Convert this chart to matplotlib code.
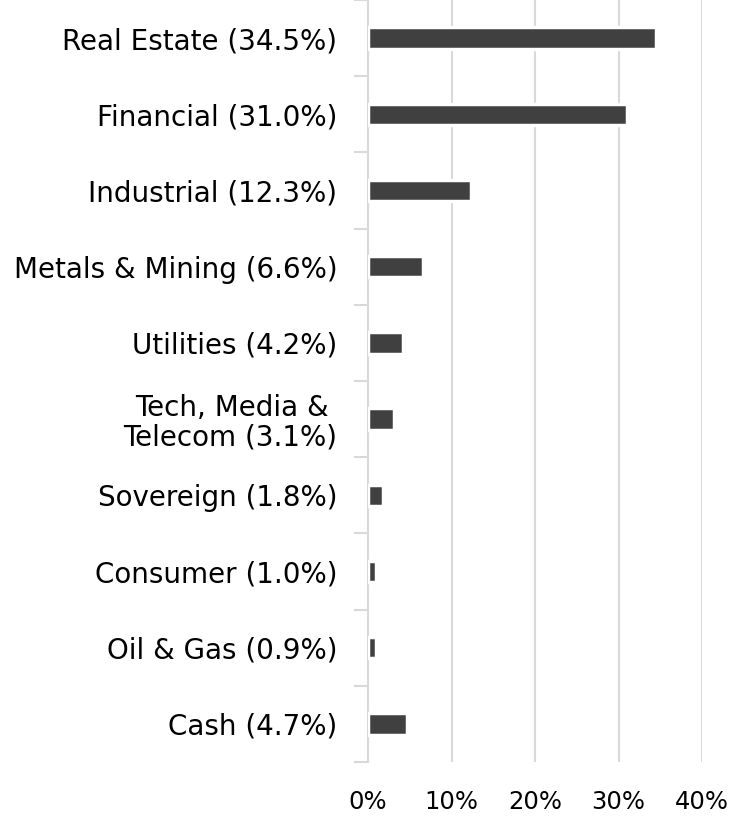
import numpy as np
import matplotlib.pyplot as plt

sectors = ["Real Estate (34.5%)", "Financial (31.0%)", "Industrial (12.3%)",
           "Metals & Mining (6.6%)", "Utilities (4.2%)", "Tech, Media & \nTelecom (3.1%)",
           "Sovereign (1.8%)", "Consumer (1.0%)", "Oil & Gas (0.9%)", "Cash (4.7%)"]
weights = [34.5, 31.0, 12.3, 6.6, 4.2, 3.1, 1.8, 1.0, 0.9, 4.7]
xticks = [0, 10, 20, 30, 40]

plt.rcParams['font.family'] = ['DejaVu Sans']

fig = plt.figure(figsize=(7.3, 8.22), dpi=100)
ax = fig.add_axes([368/730, 1 - 762/822, (702-368)/730, 762/822])

y = np.arange(len(sectors))
ax.barh(y, weights, height=0.28, color='#404040', edgecolor='white', linewidth=2.5, zorder=3)

ax.set_xlim(0, 40)
ax.set_ylim(len(sectors) - 0.5, -0.5)
ax.set_xticks(xticks)
ax.set_xticklabels([f"{t}%" for t in xticks], fontsize=17.5)
ax.set_yticks(y)
ax.set_yticklabels(sectors, fontsize=20, multialignment='right', linespacing=1.05)
ax.set_yticks(np.arange(-0.5, len(sectors) + 0.5, 1), minor=True)

ax.tick_params(axis='x', length=0, pad=20)
ax.tick_params(axis='y', which='major', length=0, pad=22)
ax.tick_params(axis='y', which='minor', length=10, width=1.5, color='#d9d9d9')

ax.grid(axis='x', color='#d9d9d9', linewidth=1.5, zorder=0)
for s in ['top', 'right', 'bottom']:
    ax.spines[s].set_visible(False)
ax.spines['left'].set_color('#d9d9d9')
ax.spines['left'].set_linewidth(1.5)

fig.savefig('out.png', dpi=100)
